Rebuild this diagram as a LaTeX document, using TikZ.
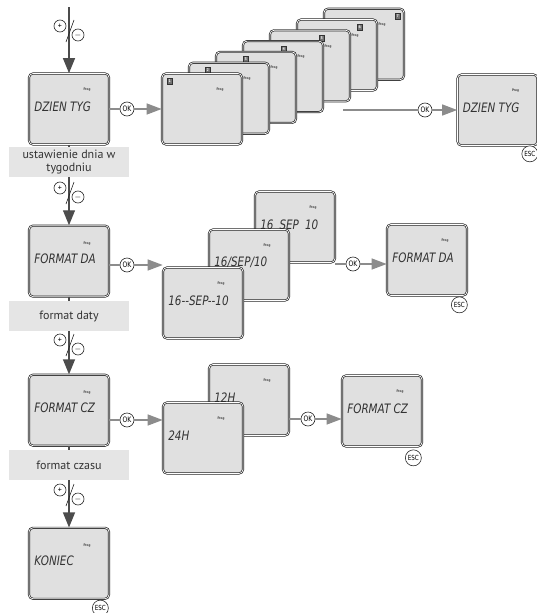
\documentclass[tikz,border=0pt]{standalone}
\usepackage{fontspec}
\usepackage{tikz}
\usetikzlibrary{arrows.meta, positioning, calc}
\newfontfamily\lcdfont[FakeStretch=0.8]{DejaVu Sans}
\newfontfamily\labelfont{PT Sans}
\definecolor{screengray}{gray}{0.88}
\definecolor{boxgray}{gray}{0.90}
\definecolor{flowgray}{gray}{0.55}
\definecolor{maingray}{gray}{0.30}
\tikzset{
  lcdtext/.style={anchor=west, inner sep=0pt, minimum size=0pt, text=black!80, font=\lcdfont\itshape\fontsize{13}{13}\selectfont},
  prog/.style={inner sep=0pt, minimum size=0pt, text=black!80, font=\labelfont\bfseries\fontsize{3.5}{4}\selectfont},
  lcd/.style={draw=black!85, line width=0.7pt, double=white, double distance=0.7pt, fill=screengray, rounded corners=4pt,
    minimum width=80pt, minimum height=71pt, inner sep=0pt,
    path picture={
      \node[lcdtext] at ([shift={(5pt,-33pt)}]path picture bounding box.north west) {#1};
      \node[prog] at ([shift={(58pt,-16pt)}]path picture bounding box.north west) {Prog};}},
  lcd/.default={},
  sublabel/.style={fill=boxgray, minimum width=120pt, minimum height=30pt, inner sep=1pt, align=center, text=black!80, font=\labelfont\fontsize{12}{12.5}\selectfont},
  okbtn/.style={circle, draw=black!85, fill=white, line width=0.6pt, minimum size=14pt, inner sep=0pt, font=\lcdfont\fontsize{7.5}{7.5}\selectfont},
  escbtn/.style={okbtn, minimum size=16pt, font=\lcdfont\fontsize{7}{7}\selectfont},
  pmbtn/.style={circle, draw=black!85, fill=white, line width=0.6pt, minimum size=12pt, inner sep=0pt, font=\labelfont\fontsize{8}{8}\selectfont},
  daybox/.style={draw=black!80, fill=black!55, text=white, minimum width=5pt, minimum height=6pt, inner sep=0pt, font=\labelfont\bfseries\fontsize{4}{4}\selectfont},
  mainarrow/.style={maingray, line width=1.3pt, -{Triangle[length=15pt,width=12pt]}},
  mainline/.style={maingray, line width=1.3pt},
  flowarrow/.style={flowgray, line width=1.4pt, -{Triangle[length=15pt,width=11pt]}},
  flowline/.style={flowgray, line width=1.4pt}
}

\begin{document}
\begin{tikzpicture}[x=1pt, y=-1pt]
\useasboundingbox (0,0) rectangle (537,613);
% menu column
\coordinate (top) at (69,7);
\node[lcd={DZIEN TYG}] (dzien) at (69,109) {};
\node[sublabel, below=2pt of dzien] (dzienlab) {ustawienie dnia w\\tygodniu};
\node[lcd={FORMAT DA}, below=48pt of dzienlab] (formda) {};
\node[sublabel, below=4pt of formda] (formdalab) {format daty};
\node[lcd={FORMAT CZ}, below=43pt of formdalab] (formcz) {};
\node[sublabel, below=4pt of formcz] (formczlab) {format czasu};
\node[lcd=KONIEC, below=47pt of formczlab] (koniec) {};
\node[escbtn] (esc4) at ([shift={(-9,9)}]koniec.south east) {ESC};

\draw[mainarrow] (top) -- (dzien);
\draw[mainline] (dzien) -- (dzienlab);
\draw[mainarrow] (dzienlab) -- (formda);
\draw[mainline] (formda) -- (formdalab);
\draw[mainarrow] (formdalab) -- (formcz);
\draw[mainline] (formcz) -- (formczlab);
\draw[mainarrow] (formczlab) -- (koniec);

\foreach \n/\y in {a/26, b/188, c/340, d/490} {
  \draw[black!85, line width=0.6pt] (74,\y-6) -- (66,\y+16);
  \node[pmbtn] (plus\n) at (60,\y) {+};
  \node[pmbtn] (minus\n) at (78,\y+9) {$-$};
}

% day of week
\foreach \i in {7,...,1} {
  \node[lcd] (day\i) at ({202+27*(\i-1)},{109-10.8*(\i-1)}) {};
  \node[daybox] (dayno\i) at ([shift={({8+11*(\i-1)},8)}]day\i.north west) {\i};
}
\node[okbtn] (ok1) at (127,109) {OK};
\draw[flowline] (dzien) -- (ok1);
\draw[flowarrow] (ok1) -- (day1);
\coordinate (stackend) at (343,110);
\node[lcd={DZIEN TYG}] (dzienset) at (497.5,110) {};
\node[okbtn] (ok1b) at (425,110) {OK};
\draw[flowline] (stackend) -- (ok1b);
\draw[flowarrow] (ok1b) -- (dzienset);
\node[escbtn] (esc1) at ([shift={(-8,8)}]dzienset.south east) {ESC};

% date format
\node[lcd={16\hspace{6pt}SEP\hspace{6pt}10}] (date3) at (295,227) {};
\node[lcd={16/SEP/10}] (date2) at (249,265) {};
\node[lcd={16-{}-SEP-{}-10}] (date1) at (203,303) {};
\node[okbtn] (ok2) at (127,265) {OK};
\draw[flowline] (formda.east |- ok2) -- (ok2);
\draw[flowarrow] (ok2) -- (ok2 -| date1.west);
\node[lcd={FORMAT DA}] (formdaset) at (427,260) {};
\node[okbtn] (ok2b) at (353,264) {OK};
\draw[flowline] (date3.east |- ok2b) -- (ok2b);
\draw[flowarrow] (ok2b) -- (ok2b -| formdaset.west);
\node[escbtn] (esc2) at ([shift={(-8,9)}]formdaset.south east) {ESC};

% time format
\node[lcd=12H] (time2) at (249,400) {};
\node[lcd=24H] (time1) at (203,438) {};
\node[okbtn] (ok3) at (127,420) {OK};
\draw[flowline] (formcz.east |- ok3) -- (ok3);
\draw[flowarrow] (ok3) -- (ok3 -| time1.west);
\node[lcd={FORMAT CZ}] (formczset) at (382,411) {};
\node[okbtn] (ok3b) at (308,419) {OK};
\draw[flowline] (time2.east |- ok3b) -- (ok3b);
\draw[flowarrow] (ok3b) -- (ok3b -| formczset.west);
\node[escbtn] (esc3) at ([shift={(-9,11)}]formczset.south east) {ESC};
\end{tikzpicture}
\end{document}
